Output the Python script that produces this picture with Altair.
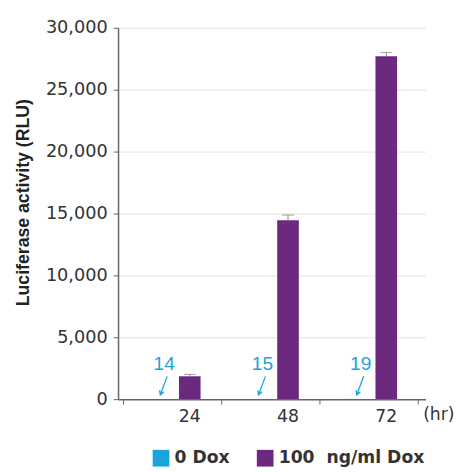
import altair as alt
import pandas as pd

hours = ["24", "48", "72"]
groups = ["0 Dox", "100 \u00a0ng/ml Dox"]
dox0 = [14, 15, 19]
dox100 = [1850, 14450, 27700]
err100 = [150, 420, 300]
colors = ["#1ba3de", "#6b2a80"]
y_ticks = [0, 5000, 10000, 15000, 20000, 25000, 30000]

rows = []
for h, v in zip(hours, dox0):
    rows.append({"hour": h, "group": groups[0], "value": v, "err": 0})
for h, v, e in zip(hours, dox100, err100):
    rows.append({"hour": h, "group": groups[1], "value": v, "err": e})
df = pd.DataFrame(rows)
df["upper"] = df["value"] + df["err"]

BLUE = colors[0]
AX = "#666666"
LBL = "#333333"

x_enc = alt.X(
    "hour:N", sort=hours,
    scale=alt.Scale(paddingInner=0, paddingOuter=0.065, align=0.385),
    axis=alt.Axis(
        title="(hr)", titleX=326, titleY=21, titleAlign="center",
        titleBaseline="alphabetic", titleAngle=0, titleFont="DejaVu Sans",
        titleFontWeight="normal", titleFontSize=17.5, titleColor=LBL,
        labelAngle=0, labelOffset=17.5, labelFont="DejaVu Sans",
        labelFontSize=17.5, labelColor=LBL, labelPadding=4,
        tickBand="extent", tickSize=5, tickColor=AX, domainColor=AX,
        domainWidth=1.5, grid=False, zindex=1,
    ),
)
xo_enc = alt.XOffset(
    "group:N", sort=groups,
    scale=alt.Scale(domain=groups, paddingInner=0.389, paddingOuter=0.583),
)
y_axis = alt.Axis(
    title="Luciferase activity (RLU)", values=y_ticks, format=",d",
    titleFont="Liberation Sans", titleFontWeight="bold", titleFontSize=18,
    titleColor="#222222", titleX=-91, titleY=177.5, titleAngle=270,
    titleBaseline="alphabetic", titleAlign="center",
    labelFont="DejaVu Sans", labelFontSize=18, labelColor=LBL, labelPadding=6,
    tickSize=5, tickColor=AX, domainColor=AX, domainWidth=1.5,
    grid=True, gridColor="#e2e2e2", gridWidth=1,
)
y_scale = alt.Scale(domain=[0, 30000], nice=False)

base = alt.Chart(df)

bars = base.mark_bar().encode(
    x=x_enc, xOffset=xo_enc,
    y=alt.Y("value:Q", scale=y_scale, axis=y_axis),
    color=alt.Color(
        "group:N", sort=groups,
        scale=alt.Scale(domain=groups, range=colors),
        legend=alt.Legend(
            title=None, orient="none", legendX=35, legendY=429,
            direction="horizontal", symbolType="square", symbolSize=289,
            symbolStrokeWidth=0, symbolOpacity=1, labelFont="DejaVu Sans",
            labelFontWeight="bold", labelFontSize=17.5, labelColor=LBL,
            columnPadding=27, labelOffset=5, padding=0,
        ),
    ),
)

err_rule = base.transform_filter(alt.datum.err > 0).mark_rule(
    color="#8a8a8a", strokeWidth=1
).encode(
    x=x_enc, xOffset=xo_enc,
    y=alt.Y("value:Q", scale=y_scale, axis=y_axis), y2="upper:Q",
)

err_cap = base.transform_filter(alt.datum.err > 0).mark_tick(
    color="#8a8a8a", orient="horizontal", size=12, thickness=1.2
).encode(
    x=x_enc, xOffset=xo_enc,
    y=alt.Y("upper:Q", scale=y_scale, axis=y_axis),
)

zero = base.transform_filter(alt.datum.group == groups[0])

labels = zero.mark_text(
    font="Liberation Sans", fontSize=19.5, color=BLUE, dx=10, dy=-29,
    baseline="alphabetic", align="center",
).encode(
    x=x_enc, xOffset=xo_enc,
    y=alt.Y("value:Q", scale=y_scale, axis=y_axis),
    text=alt.Text("value:Q", format="d"),
)

arrow_path = "M2.6,-4.6L1.2,-0.8M1.946,-1.466L1.2,-0.8L1.066,-1.79"
arrows = zero.mark_point(
    shape=arrow_path, size=100, filled=False, stroke=BLUE,
    strokeWidth=1.3, opacity=1,
).encode(
    x=x_enc, xOffset=xo_enc,
    y=alt.Y("value:Q", scale=y_scale, axis=y_axis),
)

chart = alt.layer(bars, err_rule, err_cap, labels, arrows).properties(
    width=313, height=378,
    autosize=alt.AutoSizeParams(type="none"),
    padding={"left": 112, "top": 16, "right": 32, "bottom": 70},
).configure_view(stroke=None)

chart.save("out.html", embed_options={"renderer": "svg", "actions": False})
